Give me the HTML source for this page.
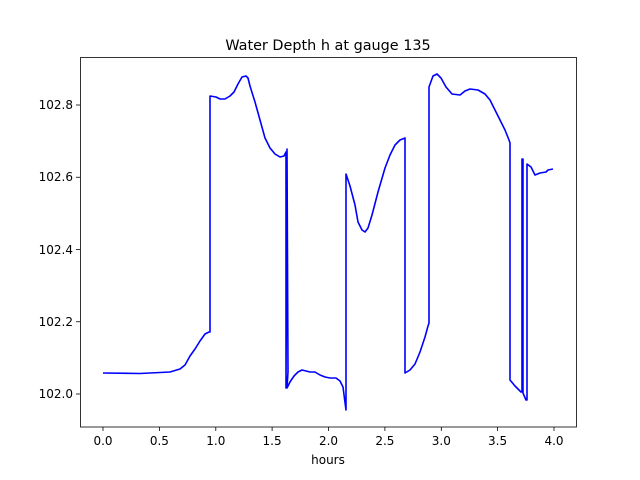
<!DOCTYPE html>
<html><head><style>body{margin:0;background:#fff}svg{display:block}text{font-family:"DejaVu Sans","Liberation Sans",sans-serif;fill:#000}</style></head>
<body>
<svg width="640" height="480" viewBox="0 0 640 480" xmlns="http://www.w3.org/2000/svg">
<rect width="640" height="480" fill="#fff"/>
<text x="328" y="50" font-size="14.4" text-anchor="middle">Water Depth h at gauge 135</text>
<g stroke="#000" stroke-width="0.8">
<line x1="103" y1="427" x2="103" y2="431"/><line x1="159.4" y1="427" x2="159.4" y2="431"/><line x1="215.8" y1="427" x2="215.8" y2="431"/><line x1="272.1" y1="427" x2="272.1" y2="431"/><line x1="328.5" y1="427" x2="328.5" y2="431"/><line x1="384.9" y1="427" x2="384.9" y2="431"/><line x1="441.3" y1="427" x2="441.3" y2="431"/><line x1="497.6" y1="427" x2="497.6" y2="431"/><line x1="554" y1="427" x2="554" y2="431"/>
<line x1="76" y1="394" x2="80" y2="394"/><line x1="76" y1="321.75" x2="80" y2="321.75"/><line x1="76" y1="249.5" x2="80" y2="249.5"/><line x1="76" y1="177.25" x2="80" y2="177.25"/><line x1="76" y1="105" x2="80" y2="105"/>
</g>
<g font-size="12" text-anchor="middle">
<text x="103" y="445">0.0</text><text x="159.4" y="445">0.5</text><text x="215.8" y="445">1.0</text><text x="272.1" y="445">1.5</text><text x="328.5" y="445">2.0</text><text x="384.9" y="445">2.5</text><text x="441.3" y="445">3.0</text><text x="497.6" y="445">3.5</text><text x="554" y="445">4.0</text>
</g>
<g font-size="12" text-anchor="end">
<text x="73" y="398">102.0</text><text x="73" y="326">102.2</text><text x="73" y="254">102.4</text><text x="73" y="181">102.6</text><text x="73" y="109">102.8</text>
</g>
<text x="328" y="464" font-size="12" text-anchor="middle">hours</text>
<polyline fill="none" stroke="#0000ff" stroke-width="1.6" stroke-linejoin="round" points="103,373 140,373.5 170,372 180,369 185,365 190,356 195,349 200,341 205,334 209,332 210,332 210,96 216,97 220,99 225,99 230,96 234,92 238,84 242,77 246,76 248,78 250,86 255,102 260,120 265,138 270,148 275,154 280,157 284,156 286,152 286,388 287,149 288,372 287,388 290,382 294,376 298,372 302,370 306,371 310,372 315,372 320,375 325,377 330,378 336,378 340,381 343,387 346,410 346,174 350,186 355,205 358,222 362,230 365,232 368,228 372,215 378,192 385,168 390,155 395,145 400,140 405,138 405,373 410,370 415,364 420,352 425,337 428,326 429,323 429,87 433,76 437,74 441,78 446,87 452,94 460,95 465,91 470,89 478,90 485,94 490,100 495,110 500,120 505,130 509,140 510,143 510,380 515,386 521,392 522,392 522,159 523,159 523,393 526,400 527,400 527,164 531,167 535,175 540,173 546,172 548,170 553,169"/>
<rect x="80.5" y="57.5" width="496" height="369.5" fill="none" stroke="#000" stroke-width="0.8"/>
</svg>
</body></html>
